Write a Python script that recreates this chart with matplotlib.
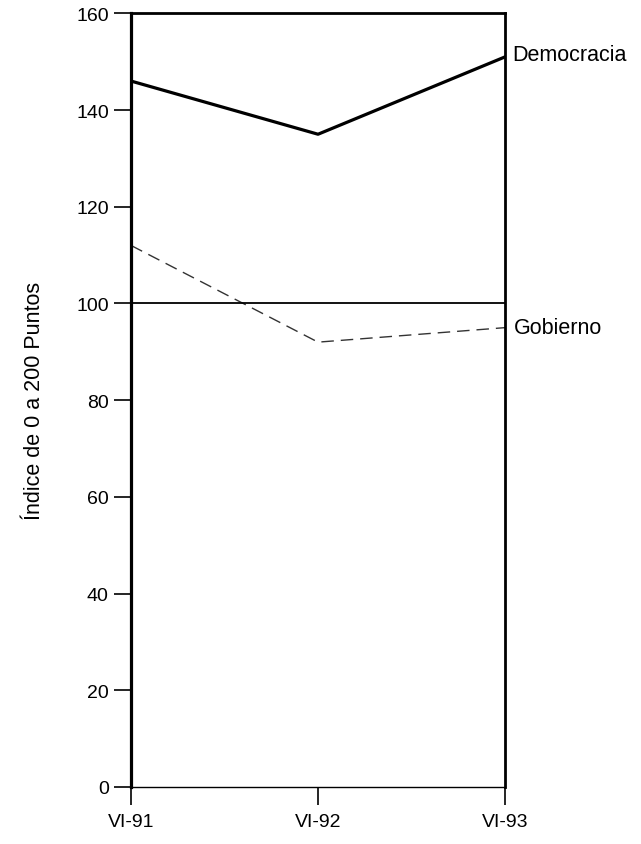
import matplotlib

matplotlib.use("Agg")
import matplotlib.pyplot as plt

periods = ["VI-91", "VI-92", "VI-93"]
democracia = [146, 135, 151]
gobierno = [112, 92, 95]
y_ticks = [0, 20, 40, 60, 80, 100, 120, 140, 160]

plt.rcParams["font.family"] = ["Liberation Sans", "DejaVu Sans"]

fig = plt.figure(figsize=(6.41, 8.45), dpi=100)
ax = fig.add_axes([0.2044, 0.0675, 0.5835, 0.9155])

x = list(range(len(periods)))
ax.plot(x, democracia, color="black", linewidth=2.3)
ax.plot(x, gobierno, color="#333333", linewidth=1.0, linestyle=(0, (9, 5)))
ax.axhline(100, color="black", linewidth=1.3)

ax.set_xlim(0, 2)
ax.set_ylim(0, 160)
ax.set_xticks(x)
ax.set_xticklabels(periods)
ax.set_yticks(y_ticks)

ax.tick_params(axis="y", direction="out", length=12, width=1.2, labelsize=14, pad=4)
ax.tick_params(axis="x", direction="out", length=13, width=1.2, labelsize=14, pad=6)
ax.spines["left"].set_linewidth(2.3)
ax.spines["right"].set_linewidth(2.0)
ax.spines["top"].set_linewidth(2.0)
ax.spines["bottom"].set_linewidth(1.0)

ax.set_ylabel("Índice de 0 a 200 Puntos", fontsize=15.5, labelpad=22)

ax.annotate("Democracia", xy=(2, democracia[-1]), xytext=(5, 2), textcoords="offset points",
            fontsize=15.5, va="center", ha="left", annotation_clip=False)
ax.annotate("Gobierno", xy=(2, gobierno[-1]), xytext=(6, 0), textcoords="offset points",
            fontsize=15.5, va="center", ha="left", annotation_clip=False)

fig.savefig("out.png", dpi=100)
